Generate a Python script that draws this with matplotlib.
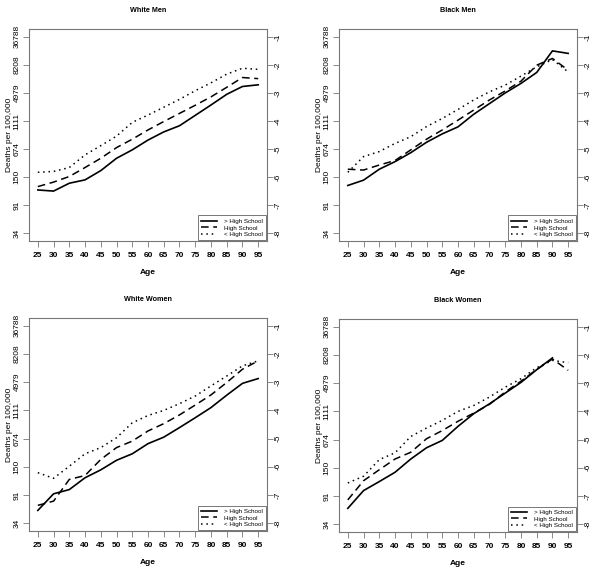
import matplotlib
matplotlib.use("Agg")
import matplotlib.pyplot as plt
import numpy as np

plt.rcParams['font.family'] = ['Liberation Sans', 'DejaVu Sans']

ages = [25, 30, 35, 40, 45, 50, 55, 60, 65, 70, 75, 80, 85, 90, 95]
left_tick_vals = [-8, -7, -6, -5, -4, -3, -2, -1]
left_tick_labels = ["34", "91", "150", "674", "1111", "4979", "8208", "36788"]
right_tick_labels = ["-8", "-7", "-6", "-5", "-4", "-3", "-2", "-1"]
series_names = ["> High School", "High School", "< High School"]
titles = ["White Men", "Black Men", "White Women", "Black Women"]

# log mortality values (right axis scale)
white_men_above = [-6.46, -6.50, -6.22, -6.10, -5.77, -5.33, -5.03, -4.68, -4.39, -4.17, -3.80, -3.43, -3.05, -2.77, -2.71]
white_men_hs = [-6.34, -6.18, -5.98, -5.66, -5.33, -4.95, -4.65, -4.32, -4.02, -3.73, -3.44, -3.14, -2.80, -2.45, -2.49]
white_men_below = [-5.83, -5.80, -5.66, -5.21, -4.88, -4.54, -4.05, -3.79, -3.51, -3.23, -2.92, -2.64, -2.33, -2.12, -2.16]

black_men_above = [-6.30, -6.11, -5.72, -5.45, -5.13, -4.76, -4.46, -4.21, -3.76, -3.38, -3.00, -2.66, -2.27, -1.50, -1.59]
black_men_hs = [-5.72, -5.75, -5.57, -5.41, -5.03, -4.65, -4.32, -3.97, -3.61, -3.25, -2.93, -2.58, -2.01, -1.77, -2.19]
black_men_below = [-5.83, -5.27, -5.09, -4.80, -4.56, -4.20, -3.91, -3.59, -3.25, -2.96, -2.72, -2.40, -2.07, -1.81, -2.25]

white_women_above = [-7.55, -6.96, -6.81, -6.39, -6.11, -5.77, -5.54, -5.18, -4.95, -4.61, -4.26, -3.90, -3.46, -3.04, -2.87]
white_women_hs = [-7.37, -7.22, -6.45, -6.31, -5.74, -5.32, -5.09, -4.73, -4.47, -4.16, -3.81, -3.45, -3.01, -2.54, -2.24]
white_women_below = [-6.21, -6.41, -5.98, -5.54, -5.32, -4.97, -4.44, -4.18, -4.00, -3.76, -3.49, -3.13, -2.78, -2.42, -2.24]

black_women_above = [-7.44, -6.81, -6.49, -6.16, -5.69, -5.29, -5.03, -4.53, -4.08, -3.73, -3.35, -2.97, -2.52, -2.10, np.nan]
black_women_hs = [-7.14, -6.46, -6.07, -5.69, -5.45, -4.97, -4.68, -4.35, -4.06, -3.75, -3.31, -2.93, -2.51, -2.14, -2.54]
black_women_below = [-6.54, -6.30, -5.71, -5.47, -4.89, -4.59, -4.32, -4.00, -3.79, -3.49, -3.14, -2.84, -2.45, -2.19, -2.27]

panels = [
    (white_men_above, white_men_hs, white_men_below),
    (black_men_above, black_men_hs, black_men_below),
    (white_women_above, white_women_hs, white_women_below),
    (black_women_above, black_women_hs, black_women_below),
]

W, H = 601, 568
fig = plt.figure(figsize=(W / 100, H / 100), dpi=100)

# pixel boxes: left, top, right, bottom
boxes = [(29, 29, 267, 241), (339, 29, 577, 241), (29, 318, 267, 531), (339, 319, 577, 532)]
styles = [dict(ls='-', lw=1.2), dict(ls=(0, (5, 3)), lw=1.1), dict(ls=(0, (1, 2.5)), lw=1.1)]
spine_col = '#777777'

for (l, t, r, b), title, data in zip(boxes, titles, panels):
    ax = fig.add_axes([l / W, 1 - b / H, (r - l) / W, (b - t) / H])
    for vals, name, st in zip(data, series_names, styles):
        ax.plot(ages, vals, color='black', label=name, **st)
    ax.set_xlim(22.2, 97.8)
    ax.set_ylim(-8.28, -0.72)
    ax.set_xticks(ages)
    ax.set_xticklabels([str(a) for a in ages], fontsize=6, fontweight='bold')
    ax.set_yticks(left_tick_vals)
    ax.set_yticklabels(left_tick_labels, fontsize=6, rotation=90, va='center')
    ax.tick_params(axis='x', length=4.5, width=0.6, color=spine_col, pad=3.5)
    ax.tick_params(axis='y', length=4, width=0.6, color=spine_col, pad=2)
    for s in ax.spines.values():
        s.set_color(spine_col)
        s.set_linewidth(0.8)
    ax.set_title(title, fontsize=5.2, fontweight='bold', pad=12)
    ax.set_xlabel("Age", fontsize=6, fontweight='bold', labelpad=7)
    ax.set_ylabel("Deaths per 100,000", fontsize=6, labelpad=0.5)
    ax2 = ax.twinx()
    ax2.set_ylim(ax.get_ylim())
    ax2.set_yticks(left_tick_vals)
    ax2.set_yticklabels(right_tick_labels, fontsize=6, rotation=90, va='center')
    ax2.tick_params(axis='y', length=4, width=0.6, color=spine_col, pad=1.5)
    for s in ax2.spines.values():
        s.set_visible(False)
    leg = ax.legend(loc='lower right', fontsize=4.5, frameon=True, fancybox=False,
                    borderaxespad=0.1, handlelength=2.6, handletextpad=1.2,
                    labelspacing=0.2, borderpad=0.5)
    leg.get_frame().set_edgecolor('#555555')
    leg.get_frame().set_linewidth(0.7)

fig.savefig("out.png", dpi=100)
